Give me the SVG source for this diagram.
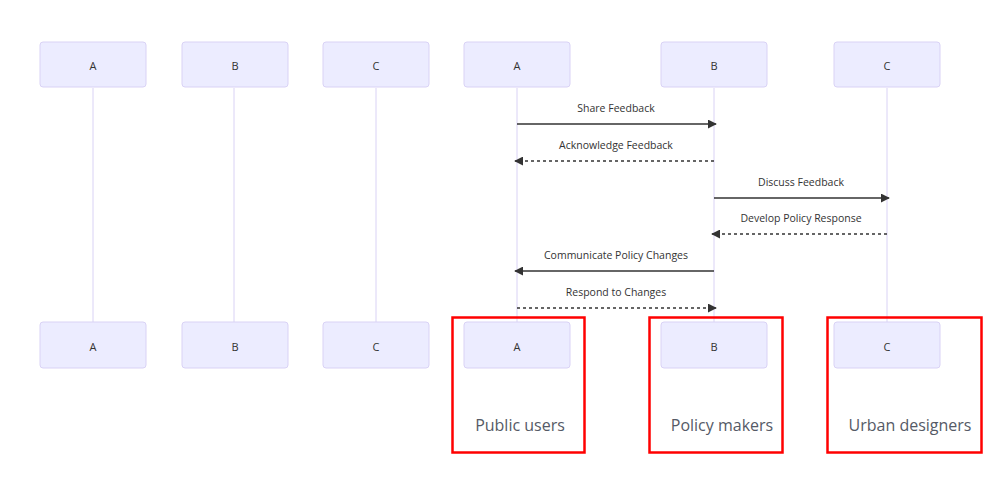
<svg xmlns="http://www.w3.org/2000/svg" width="994" height="484" viewBox="0 0 994 484">
<defs>
<style>
.actor{fill:#ECECFF;stroke:#D9D2F5;stroke-width:1}
.life{stroke:#D9D2F5;stroke-width:1}
.at{font-family:"Open Sans","Liberation Sans",sans-serif;font-size:11px;fill:#333;text-anchor:middle;dominant-baseline:central}
.mt{font-family:"Open Sans","Liberation Sans",sans-serif;font-size:10.5px;fill:#333;text-anchor:middle}
.msg{stroke:#333;stroke-width:1.3;fill:none}
.dot{stroke-dasharray:3,3}
.red{fill:none;stroke:#FF0000;stroke-width:2.5}
.lbl{font-family:"Open Sans","Liberation Sans",sans-serif;font-size:16px;fill:#555a66;text-anchor:middle}
</style>
<marker id="ah" viewBox="0 0 10 10" refX="9" refY="5" markerWidth="9" markerHeight="9" markerUnits="userSpaceOnUse" orient="auto">
<path d="M0,0 L10,5 L0,10 z" fill="#333"/>
</marker>
</defs>
<rect width="994" height="484" fill="#fff"/>
<g id="lifelines">
<line class="life" x1="93" y1="88" x2="93" y2="322"/>
<line class="life" x1="234" y1="88" x2="234" y2="322"/>
<line class="life" x1="376" y1="88" x2="376" y2="322"/>
<line class="life" x1="517" y1="88" x2="517" y2="322"/>
<line class="life" x1="714" y1="88" x2="714" y2="322"/>
<line class="life" x1="887" y1="88" x2="887" y2="322"/>
</g>
<g id="actor-A1-top"><rect class="actor" x="40" y="42" width="106" height="45" rx="3"/><text class="at" x="93" y="65">A</text></g>
<g id="actor-B1-top"><rect class="actor" x="182" y="42" width="106" height="45" rx="3"/><text class="at" x="235" y="65">B</text></g>
<g id="actor-C1-top"><rect class="actor" x="323" y="42" width="106" height="45" rx="3"/><text class="at" x="376" y="65">C</text></g>
<g id="actor-A2-top"><rect class="actor" x="464" y="42" width="106" height="45" rx="3"/><text class="at" x="517" y="65">A</text></g>
<g id="actor-B2-top"><rect class="actor" x="661" y="42" width="106" height="45" rx="3"/><text class="at" x="714" y="65">B</text></g>
<g id="actor-C2-top"><rect class="actor" x="834" y="42" width="106" height="45" rx="3"/><text class="at" x="887" y="65">C</text></g>
<g id="actor-A1-bottom"><rect class="actor" x="40" y="322" width="106" height="46" rx="3"/><text class="at" x="93" y="346">A</text></g>
<g id="actor-B1-bottom"><rect class="actor" x="182" y="322" width="106" height="46" rx="3"/><text class="at" x="235" y="346">B</text></g>
<g id="actor-C1-bottom"><rect class="actor" x="323" y="322" width="106" height="46" rx="3"/><text class="at" x="376" y="346">C</text></g>
<g id="actor-A2-bottom"><rect class="actor" x="464" y="322" width="106" height="46" rx="3"/><text class="at" x="517" y="346">A</text></g>
<g id="actor-B2-bottom"><rect class="actor" x="661" y="322" width="106" height="46" rx="3"/><text class="at" x="714" y="346">B</text></g>
<g id="actor-C2-bottom"><rect class="actor" x="834" y="322" width="106" height="46" rx="3"/><text class="at" x="887" y="346">C</text></g>
<g id="connectors">
<line class="msg" x1="517" y1="124" x2="716" y2="124" marker-end="url(#ah)"/>
<text class="mt" x="616" y="112">Share Feedback</text>
<line class="msg dot" x1="714" y1="161" x2="515" y2="161" marker-end="url(#ah)"/>
<text class="mt" x="616" y="149">Acknowledge Feedback</text>
<line class="msg" x1="714" y1="198" x2="889" y2="198" marker-end="url(#ah)"/>
<text class="mt" x="801" y="186">Discuss Feedback</text>
<line class="msg dot" x1="887" y1="234" x2="712" y2="234" marker-end="url(#ah)"/>
<text class="mt" x="801" y="222">Develop Policy Response</text>
<line class="msg" x1="714" y1="271" x2="515" y2="271" marker-end="url(#ah)"/>
<text class="mt" x="616" y="259">Communicate Policy Changes</text>
<line class="msg dot" x1="517" y1="308" x2="716" y2="308" marker-end="url(#ah)"/>
<text class="mt" x="616" y="296">Respond to Changes</text>
</g>
<g id="highlight-public">
<rect class="red" x="452.5" y="317.5" width="132" height="135"/>
<text class="lbl" x="520" y="431">Public users</text>
</g>
<g id="highlight-policy">
<rect class="red" x="649.5" y="317.5" width="133" height="135"/>
<text class="lbl" x="722" y="431">Policy makers</text>
</g>
<g id="highlight-urban">
<rect class="red" x="827.5" y="317.5" width="154" height="135"/>
<text class="lbl" x="910" y="431">Urban designers</text>
</g>
</svg>
